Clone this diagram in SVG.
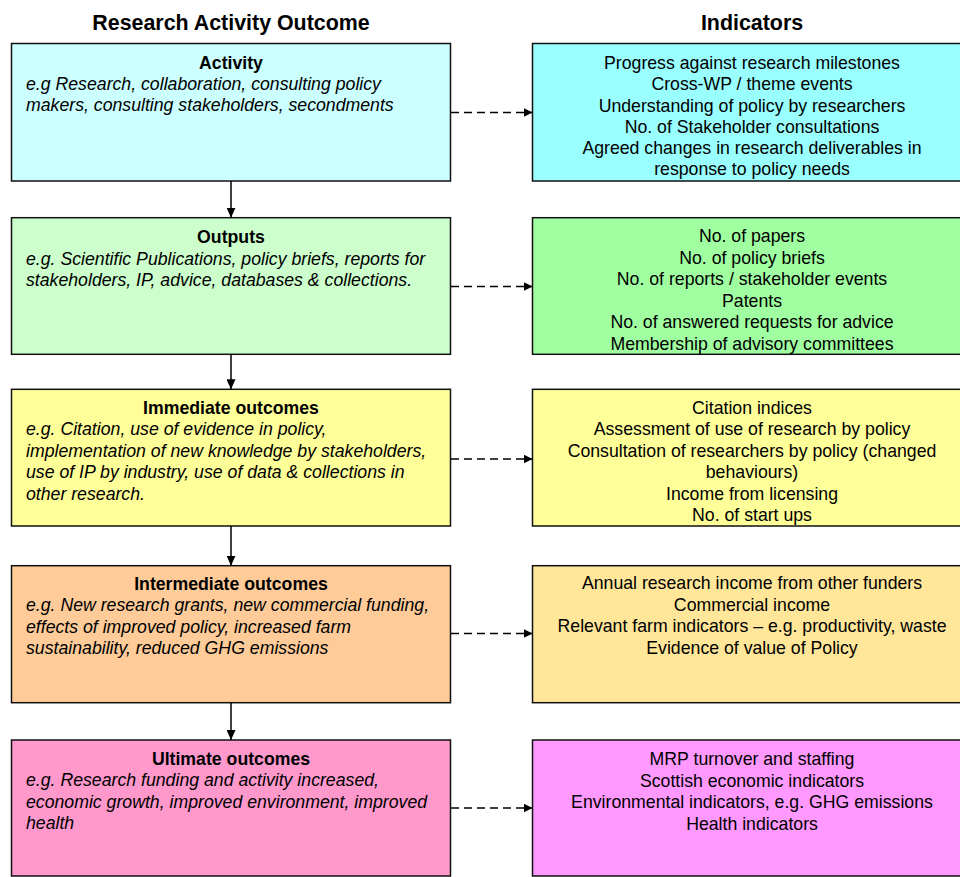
<svg xmlns="http://www.w3.org/2000/svg" width="960" height="877" viewBox="0 0 960 877">
<defs>
<style>
.box{stroke:#111;stroke-width:1.5}
.t{font-family:"Liberation Sans",Arial,sans-serif;font-size:17.7px;fill:#000}
.h{font-weight:bold;text-anchor:middle}
.i{font-style:italic}
.c{text-anchor:middle}
.title{font-family:"Liberation Sans",Arial,sans-serif;font-size:21.4px;font-weight:bold;text-anchor:middle;fill:#000}
.solid{stroke:#000;stroke-width:1.5;fill:none}
.dash{stroke:#000;stroke-width:1.6;fill:none;stroke-dasharray:8,5}
</style>
<marker id="ah" viewBox="0 0 10 10" refX="10" refY="5" markerWidth="9" markerHeight="9" markerUnits="userSpaceOnUse" orient="auto">
<path d="M0,0 L10,5 L0,10 Z" fill="#000"/>
</marker>
<marker id="ahv" viewBox="0 0 10 10" refX="10" refY="5" markerWidth="10" markerHeight="9" markerUnits="userSpaceOnUse" orient="auto" preserveAspectRatio="none">
<path d="M0,0 L10,5 L0,10 Z" fill="#000"/>
</marker>
</defs>
<rect width="960" height="877" fill="#fff"/>
<text class="title" x="231" y="30">Research Activity Outcome</text>
<text class="title" x="752" y="30">Indicators</text>

<g id="activity">
<rect class="box" x="11.5" y="43.5" width="439" height="137.5" fill="#CCFFFF"/>
<text class="t h" x="231" y="69">Activity</text>
<text class="t i" x="26" y="89.5">e.g Research, collaboration, consulting policy</text>
<text class="t i" x="26" y="110.5">makers, consulting stakeholders, secondments</text>
</g>
<g id="activity-indicators">
<rect class="box" x="532.5" y="43.5" width="440" height="137.5" fill="#99FFFF"/>
<text class="t c" x="752" y="68.5">Progress against research milestones</text>
<text class="t c" x="752" y="90">Cross-WP / theme events</text>
<text class="t c" x="752" y="111.5">Understanding of policy by researchers</text>
<text class="t c" x="752" y="132.5">No. of Stakeholder consultations</text>
<text class="t c" x="752" y="154">Agreed changes in research deliverables in</text>
<text class="t c" x="752" y="175">response to policy needs</text>
</g>

<g id="outputs">
<rect class="box" x="11.5" y="217.7" width="439" height="136.6" fill="#CCFFCC"/>
<text class="t h" x="231" y="243.3">Outputs</text>
<text class="t i" x="26" y="264.5">e.g. Scientific Publications, policy briefs, reports for</text>
<text class="t i" x="26" y="285.5">stakeholders, IP, advice, databases &amp; collections.</text>
</g>
<g id="outputs-indicators">
<rect class="box" x="532.5" y="217.7" width="440" height="136.6" fill="#A0FFA0"/>
<text class="t c" x="752" y="242">No. of papers</text>
<text class="t c" x="752" y="263.5">No. of policy briefs</text>
<text class="t c" x="752" y="285">No. of reports / stakeholder events</text>
<text class="t c" x="752" y="306.5">Patents</text>
<text class="t c" x="752" y="328">No. of answered requests for advice</text>
<text class="t c" x="752" y="349.5">Membership of advisory committees</text>
</g>

<g id="immediate">
<rect class="box" x="11.5" y="389.3" width="439" height="136.7" fill="#FFFF99"/>
<text class="t h" x="231" y="413.5">Immediate outcomes</text>
<text class="t i" x="26" y="435">e.g. Citation, use of evidence in policy,</text>
<text class="t i" x="26" y="456.5">implementation of new knowledge by stakeholders,</text>
<text class="t i" x="26" y="478">use of IP by industry, use of data &amp; collections in</text>
<text class="t i" x="26" y="499.5">other research.</text>
</g>
<g id="immediate-indicators">
<rect class="box" x="532.5" y="389.3" width="440" height="136.7" fill="#FFFF99"/>
<text class="t c" x="752" y="413.5">Citation indices</text>
<text class="t c" x="752" y="435">Assessment of use of research by policy</text>
<text class="t c" x="752" y="456.5">Consultation of researchers by policy (changed</text>
<text class="t c" x="752" y="478">behaviours)</text>
<text class="t c" x="752" y="499.5">Income from licensing</text>
<text class="t c" x="752" y="521">No. of start ups</text>
</g>

<g id="intermediate">
<rect class="box" x="11.5" y="565.7" width="439" height="137" fill="#FFCC99"/>
<text class="t h" x="231" y="589.5">Intermediate outcomes</text>
<text class="t i" x="26" y="611">e.g. New research grants, new commercial funding,</text>
<text class="t i" x="26" y="632.5">effects of improved policy, increased farm</text>
<text class="t i" x="26" y="654">sustainability, reduced GHG emissions</text>
</g>
<g id="intermediate-indicators">
<rect class="box" x="532.5" y="565.7" width="440" height="137" fill="#FFE699"/>
<text class="t c" x="752" y="589">Annual research income from other funders</text>
<text class="t c" x="752" y="610.5">Commercial income</text>
<text class="t c" x="752" y="632">Relevant farm indicators – e.g. productivity, waste</text>
<text class="t c" x="752" y="653.5">Evidence of value of Policy</text>
</g>

<g id="ultimate">
<rect class="box" x="11.5" y="740" width="439" height="136" fill="#FF99CC"/>
<text class="t h" x="231" y="765">Ultimate outcomes</text>
<text class="t i" x="26" y="786">e.g. Research funding and activity increased,</text>
<text class="t i" x="26" y="807.5">economic growth, improved environment, improved</text>
<text class="t i" x="26" y="829">health</text>
</g>
<g id="ultimate-indicators">
<rect class="box" x="532.5" y="740" width="440" height="136" fill="#FF99FF"/>
<text class="t c" x="752" y="765">MRP turnover and staffing</text>
<text class="t c" x="752" y="786.5">Scottish economic indicators</text>
<text class="t c" x="752" y="808">Environmental indicators, e.g. GHG emissions</text>
<text class="t c" x="752" y="829.5">Health indicators</text>
</g>

<g id="connectors">
<line class="solid" x1="231" y1="181" x2="231" y2="217.7" marker-end="url(#ahv)"/>
<line class="solid" x1="231" y1="354.3" x2="231" y2="389.3" marker-end="url(#ahv)"/>
<line class="solid" x1="231" y1="526" x2="231" y2="565.7" marker-end="url(#ahv)"/>
<line class="solid" x1="231" y1="702.7" x2="231" y2="740" marker-end="url(#ahv)"/>
<line class="dash" x1="451" y1="112.5" x2="532.5" y2="112.5" marker-end="url(#ah)"/>
<line class="dash" x1="451" y1="286.5" x2="532.5" y2="286.5" marker-end="url(#ah)"/>
<line class="dash" x1="451" y1="459" x2="532.5" y2="459" marker-end="url(#ah)"/>
<line class="dash" x1="451" y1="633.5" x2="532.5" y2="633.5" marker-end="url(#ah)"/>
<line class="dash" x1="451" y1="808" x2="532.5" y2="808" marker-end="url(#ah)"/>
</g>
</svg>
